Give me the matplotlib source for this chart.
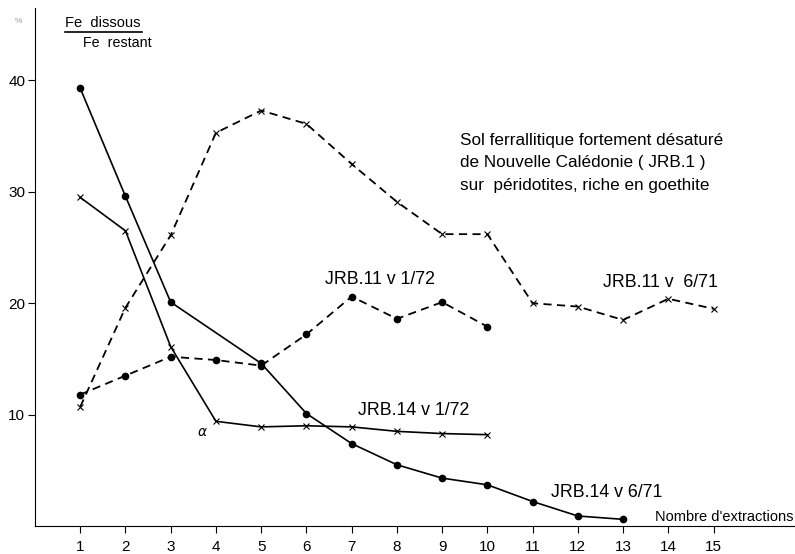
import matplotlib
matplotlib.use('Agg')
import matplotlib.pyplot as plt
import numpy as np

plt.rcParams['font.family'] = ['Liberation Sans', 'DejaVu Sans']

# JRB.14 v 6/71 (trait plein, points)
x_14_671 = [1, 2, 3, 5, 6, 7, 8, 9, 10, 11, 12, 13]
y_14_671 = [39.3, 29.6, 20.1, 14.6, 10.1, 7.4, 5.5, 4.3, 3.7, 2.2, 0.9, 0.6]

# JRB.11 v 1/72 (tirets, points)
x_11_172 = [1, 2, 3, 4, 5, 6, 7, 8, 9, 10]
y_11_172 = [11.8, 13.5, 15.2, 14.9, 14.4, 17.2, 20.6, 18.6, 20.1, 17.9]

# JRB.11 v 6/71 (tirets, croix)
x_11_671 = [1, 2, 3, 4, 5, 6, 7, 8, 9, 10, 11, 12, 13, 14, 15]
y_11_671 = [10.7, 19.6, 26.1, 35.3, 37.3, 36.1, 32.5, 29.1, 26.2, 26.2,
            20.0, 19.7, 18.5, 20.4, 19.5]

# JRB.14 v 1/72 (trait plein, croix)
x_14_172 = [1, 2, 3, 4, 5, 6, 7, 8, 9, 10]
y_14_172 = [29.5, 26.5, 16.1, 9.4, 8.9, 9.0, 8.9, 8.5, 8.3, 8.2]

xticks = list(range(1, 16))
yticks = [10, 20, 30, 40]

fig = plt.figure(figsize=(7.95, 5.54), dpi=100)
ax = fig.add_axes([0.044, 0.0505, 0.956, 0.935])

dash = (4.5, 3)
ax.plot(x_14_671, y_14_671, '-', color='black', lw=1.2, marker='o', ms=4.5)
ax.plot(x_11_172, y_11_172, '--', color='black', lw=1.3, dashes=dash, marker='o', ms=4.5)
ax.plot(x_11_671, y_11_671, '--', color='black', lw=1.3, dashes=dash, marker='x', ms=4, mew=0.8)
ax.plot(x_14_172, y_14_172, '-', color='black', lw=1.2, marker='x', ms=4, mew=0.8)

ax.set_xlim(0, 16.8)
ax.set_ylim(0, 46.5)
ax.spines['top'].set_visible(False)
ax.spines['right'].set_visible(False)
ax.set_xticks(xticks)
ax.set_yticks(yticks)
ax.tick_params(axis='both', direction='out', length=5, width=0.8, labelsize=11)
ax.tick_params(axis='y', pad=2)
ax.tick_params(axis='x', pad=5)

fs = 12.8
ax.text(6.4, 22.1, 'JRB.11 v 1/72', fontsize=fs, va='center')
ax.text(12.55, 21.9, 'JRB.11 v  6/71', fontsize=fs, va='center')
ax.text(7.15, 10.4, 'JRB.14 v 1/72', fontsize=fs, va='center')
ax.text(11.4, 3.0, 'JRB.14 v 6/71', fontsize=fs, va='center')
ax.text(3.7, 8.4, r'$\alpha$', fontsize=10, va='center', ha='center')
ax.text(13.7, 0.8, "Nombre d'extractions", fontsize=10.5, va='center')

ax.text(9.4, 32.6, 'Sol ferrallitique fortement désaturé\n'
        'de Nouvelle Calédonie ( JRB.1 )\n'
        'sur  péridotites, riche en goethite',
        fontsize=12.3, va='center', linespacing=1.6)

fig.text(0.082, 0.958, 'Fe  dissous', fontsize=10.5, va='center')
fig.add_artist(plt.Line2D([0.082, 0.178], [0.942, 0.942], color='black', lw=1.2))
fig.text(0.104, 0.922, 'Fe  restant', fontsize=10.3, va='center')
fig.text(0.018, 0.962, '%', fontsize=6, color='0.6', va='center')

fig.savefig('out.png', dpi=100)
